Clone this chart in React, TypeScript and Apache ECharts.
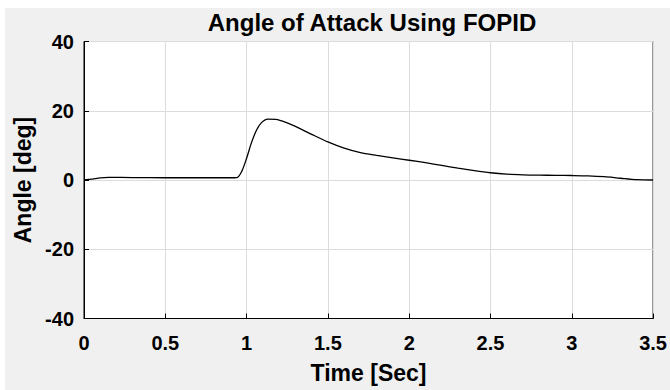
import React, { useEffect, useRef } from "react";
import * as echarts from "echarts";

const timeSec = [0, 0.05, 0.1, 0.15, 0.3, 0.5, 0.7, 0.9, 0.94, 0.97, 1.0, 1.03, 1.06, 1.09, 1.13, 1.18, 1.25, 1.3, 1.4, 1.5, 1.6, 1.7, 1.8, 1.9, 2.0, 2.1, 2.2, 2.3, 2.4, 2.5, 2.6, 2.7, 2.8, 2.9, 3.0, 3.1, 3.2, 3.3, 3.4, 3.5];
const angleDeg = [0, 0.25, 0.6, 0.75, 0.7, 0.65, 0.65, 0.65, 0.7, 2.5, 6.3, 10.8, 14.3, 16.5, 17.6, 17.5, 16.5, 15.5, 13.2, 11.0, 9.2, 7.9, 7.1, 6.4, 5.7, 5.0, 4.2, 3.4, 2.7, 2.1, 1.7, 1.5, 1.4, 1.35, 1.3, 1.2, 0.95, 0.5, 0.1, 0.0];
const xTicks = [0, 0.5, 1, 1.5, 2, 2.5, 3, 3.5];
const yTicks = [-40, -20, 0, 20, 40];

const FONT = "'Liberation Sans', Arial, sans-serif";

export default function App() {
  const ref = useRef<HTMLDivElement>(null);
  useEffect(() => {
    document.body.style.margin = "0";
    if (!ref.current) return;
    const chart = echarts.init(ref.current, null, { renderer: "svg" });
    const data = timeSec.map((t, i) => [t, angleDeg[i]]);
    chart.setOption({
      animation: false,
      backgroundColor: "#ffffff",
      graphic: [
        {
          type: "rect",
          z: -10,
          silent: true,
          shape: { x: 5, y: 8, width: 665, height: 382 },
          style: { fill: "#f0f0f0" },
        },
      ],
      title: {
        text: "Angle of Attack Using FOPID",
        left: 367,
        top: 5,
        textAlign: "center",
        textStyle: { fontFamily: FONT, fontWeight: "bold", fontSize: 24, color: "#000" },
      },
      grid: {
        left: 84,
        right: 16.5,
        top: 41.5,
        bottom: 71.5,
        show: true,
        backgroundColor: "#ffffff",
        borderColor: "#000",
        borderWidth: 1,
      },
      xAxis: {
        type: "value",
        min: xTicks[0],
        max: xTicks[xTicks.length - 1],
        interval: 0.5,
        name: "Time [Sec]",
        nameLocation: "middle",
        nameGap: 43,
        nameTextStyle: { fontFamily: FONT, fontWeight: "bold", fontSize: 23, color: "#000" },
        axisLine: { show: true, onZero: false, lineStyle: { color: "#000", width: 1 } },
        axisTick: { show: true, inside: true, length: 5, lineStyle: { color: "#000" } },
        axisLabel: { fontFamily: FONT, fontWeight: "bold", fontSize: 20, color: "#000", margin: 14 },
        splitLine: { show: true, lineStyle: { color: "#dcdcdc", width: 1 } },
      },
      yAxis: {
        type: "value",
        min: yTicks[0],
        max: yTicks[yTicks.length - 1],
        interval: 20,
        name: "Angle [deg]",
        nameLocation: "middle",
        nameGap: 50,
        nameTextStyle: { fontFamily: FONT, fontWeight: "bold", fontSize: 23, color: "#000" },
        axisLine: { show: true, onZero: false, lineStyle: { color: "#000", width: 1 } },
        axisTick: { show: true, inside: true, length: 5, lineStyle: { color: "#000" } },
        axisLabel: { fontFamily: FONT, fontWeight: "bold", fontSize: 20, color: "#000", margin: 10 },
        splitLine: { show: true, lineStyle: { color: "#dcdcdc", width: 1 } },
      },
      series: [
        {
          type: "line",
          data,
          smooth: 0.3,
          showSymbol: false,
          lineStyle: { color: "#000", width: 1.3 },
        },
      ],
    });
    return () => chart.dispose();
  }, []);
  return <div ref={ref} style={{ width: 670, height: 390 }} />;
}
